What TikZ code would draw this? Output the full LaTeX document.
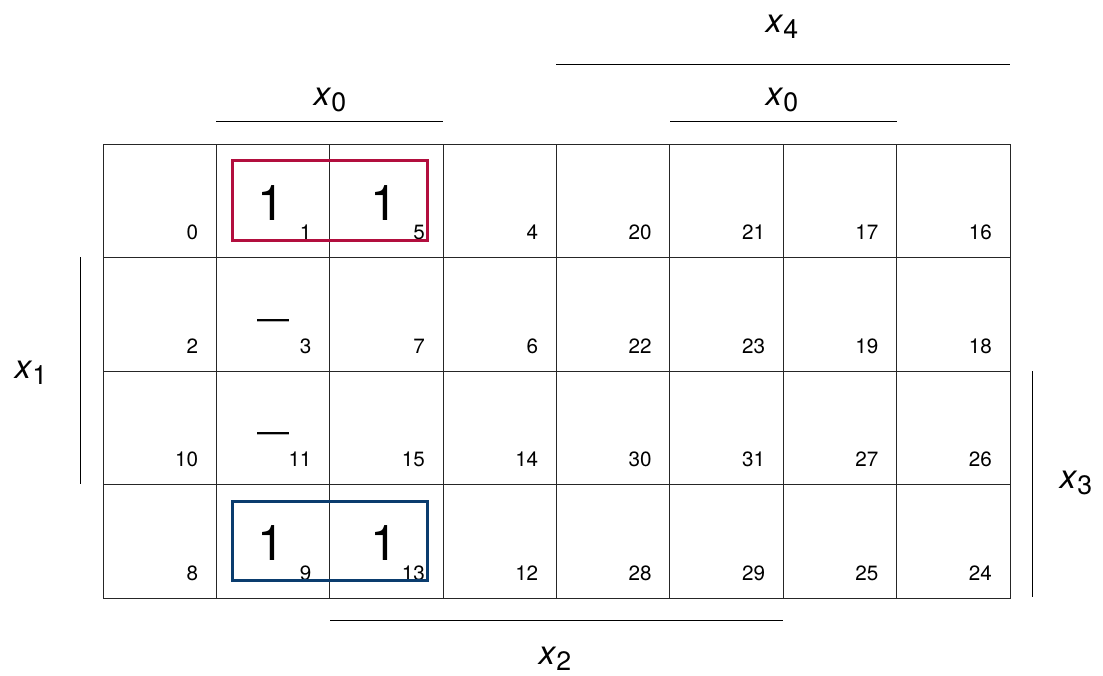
\documentclass[tikz,border=0pt]{standalone}
\usepackage{fontspec}
\setmainfont{TeX Gyre Heros}
\definecolor{kred}{RGB}{178,14,62}
\definecolor{kblue}{RGB}{10,60,110}
\newcommand{\xsub}[1]{\textit{x}\raisebox{-5pt}{\fontsize{20}{20}\selectfont #1}}
\begin{document}
\begin{tikzpicture}[x=0.75pt,y=-0.75pt,
  cell/.style={draw=black!85, line width=0.75pt, minimum width=85.03pt, minimum height=85.125pt, inner sep=0pt, outer sep=0pt},
  num/.style={anchor=base east, inner sep=0pt, font=\fontsize{15.5}{15.5}\selectfont},
  one/.style={inner sep=0pt, font=\fontsize{37}{37}\selectfont},
  dc/.style={inner sep=0pt, font=\fontsize{24}{24}\selectfont},
  lab/.style={anchor=base, inner sep=0pt, font=\fontsize{25}{25}\selectfont},
  bar/.style={draw=black, line width=0.75pt},
  grp/.style={line width=2.25pt}
]
\useasboundingbox (0,0) rectangle (1103,675);
% cells
\foreach \r/\row in {0/{0,1,5,4,20,21,17,16},1/{2,3,7,6,22,23,19,18},2/{10,11,15,14,30,31,27,26},3/{8,9,13,12,28,29,25,24}}{
  \foreach \v [count=\c from 0] in \row {
    \node[cell] (c\r\c) at ({103+113.375*(\c+0.5)},{144+113.5*(\r+0.5)}) {};
    \node[num] (n\r\c) at ([shift={(-18,-18)}]c\r\c.south east) {\v};
  }
}
% entries
\node[one] (v01) at ([shift={(-2,2)}]c01.center) {1};
\node[one] (v02) at ([shift={(-2,2)}]c02.center) {1};
\node[one] (v31) at ([shift={(-2,2)}]c31.center) {1};
\node[one] (v32) at ([shift={(-2,2)}]c32.center) {1};
\node[dc] (d11) at ([shift={(0,10)}]c11.center) {—};
\node[dc] (d21) at ([shift={(0,10)}]c21.center) {—};
% groups
\draw[grp, kred] (232,160) rectangle (427,240);
\draw[grp, kblue] (232,501) rectangle (427,580);
% variable bars and labels
\draw[bar] (556,64) -- (1010,64);
\node[lab] (lx4) at (782,32) {\xsub{4}};
\draw[bar] (216,121) -- (443,121);
\node[lab] (lx0a) at (330,105) {\xsub{0}};
\draw[bar] (670,121) -- (897,121);
\node[lab] (lx0b) at (782,105) {\xsub{0}};
\draw[bar] (80,257) -- (80,484);
\node[lab] (lx1) at (31,378) {\xsub{1}};
\draw[bar] (1032,371) -- (1032,597);
\node[lab] (lx3) at (1076,488) {\xsub{3}};
\draw[bar] (330,620) -- (783,620);
\node[lab] (lx2) at (555,664) {\xsub{2}};
\end{tikzpicture}
\end{document}
